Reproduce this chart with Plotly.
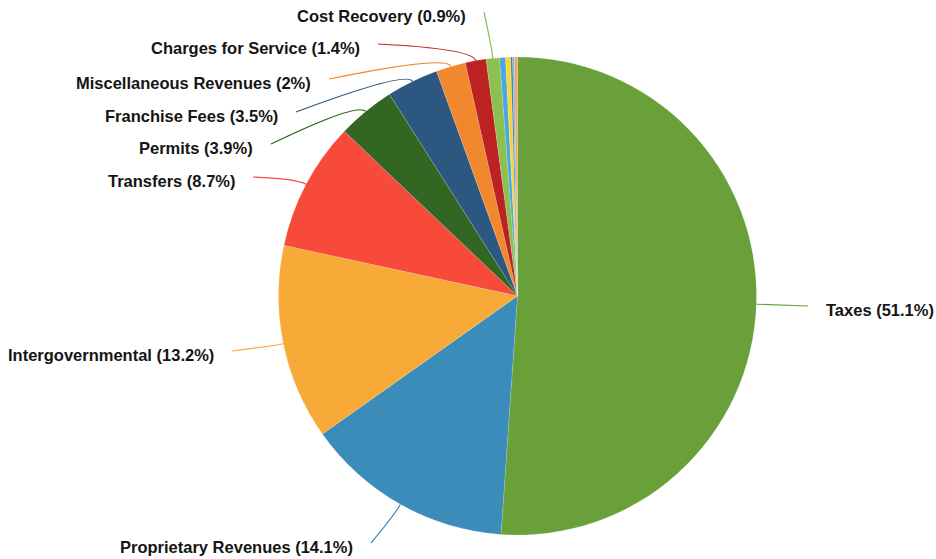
import math
import plotly.graph_objects as go

# Revenue sources and their share of total revenue (%)
categories = [
    "Taxes", "Proprietary Revenues", "Intergovernmental", "Transfers",
    "Permits", "Franchise Fees", "Miscellaneous Revenues",
    "Charges for Service", "Cost Recovery",
    "Fines", "Interest Earnings", "Special Assessments", "Donations", "Other",
]
shares = [51.1, 14.1, 13.2, 8.7, 3.9, 3.5, 2.0, 1.4, 0.9,
          0.4, 0.35, 0.12, 0.13, 0.2]
colors = [
    "#6aa03a", "#3c8cba", "#f7aa38", "#f74a3a", "#336622", "#2c5780",
    "#f2882e", "#be2121", "#8cc152",
    "#4aa8e0", "#f8d43c", "#3a78b0", "#7fb8e8", "#f2a65a",
]
# Slices that carry an outside label
labelled = 9

# Figure geometry (pixels)
W, H = 936, 559
CX, CY, R = 517.5, 296, 239
ELBOW = 12          # radial stub of each leader line
GAP = 16            # space between line end and text

# Where each leader line ends (pixels), one per labelled slice
line_ends = [
    (808, 306), (371, 543), (232, 351), (253, 177), (271, 144),
    (296, 112), (329, 79), (378, 44), (484, 12),
]


def px(x, y):
    return x / W, 1 - y / H


fig = go.Figure(go.Pie(
    labels=categories,
    values=shares,
    sort=False,
    direction="clockwise",
    rotation=0,
    textinfo="none",
    hoverinfo="label+percent",
    marker=dict(colors=colors, line=dict(color="rgba(255,255,255,0.5)", width=0.3)),
    domain=dict(x=[(CX - R) / W, (CX + R) / W], y=[(H - CY - R) / H, (H - CY + R) / H]),
    showlegend=False,
))

total = sum(shares)
shapes, annotations = [], []
cum = 0.0
for i, (name, v) in enumerate(zip(categories, shares)):
    mid = (cum + v / 2) / total * 2 * math.pi
    cum += v
    if i >= labelled:
        continue
    sx, sy = math.sin(mid), -math.cos(mid)
    x0, y0 = CX + R * sx, CY + R * sy
    x1, y1 = CX + (R + ELBOW) * sx, CY + (R + ELBOW) * sy
    x2, y2 = line_ends[i]
    a, b, c = px(x0, y0), px(x1, y1), px(x2, y2)
    shapes.append(dict(
        type="path", xref="paper", yref="paper",
        path=f"M {a[0]},{a[1]} Q {b[0]},{b[1]} {c[0]},{c[1]}",
        line=dict(color=colors[i], width=1.2),
    ))
    right = x2 > CX
    tx = x2 + GAP if right else x2 - GAP
    lx, ly = px(tx, y2 + 4)
    annotations.append(dict(
        x=lx, y=ly, xref="paper", yref="paper",
        text=f"<b>{name} ({v:g}%)</b>",
        showarrow=False,
        xanchor="left" if right else "right",
        yanchor="middle",
        font=dict(family="Liberation Sans, Arial, sans-serif", size=16.5, color="#151515"),
    ))

fig.update_layout(
    width=W, height=H,
    margin=dict(l=0, r=0, t=0, b=0),
    paper_bgcolor="white",
    plot_bgcolor="white",
    shapes=shapes,
    annotations=annotations,
)

fig.write_html("out.html")
